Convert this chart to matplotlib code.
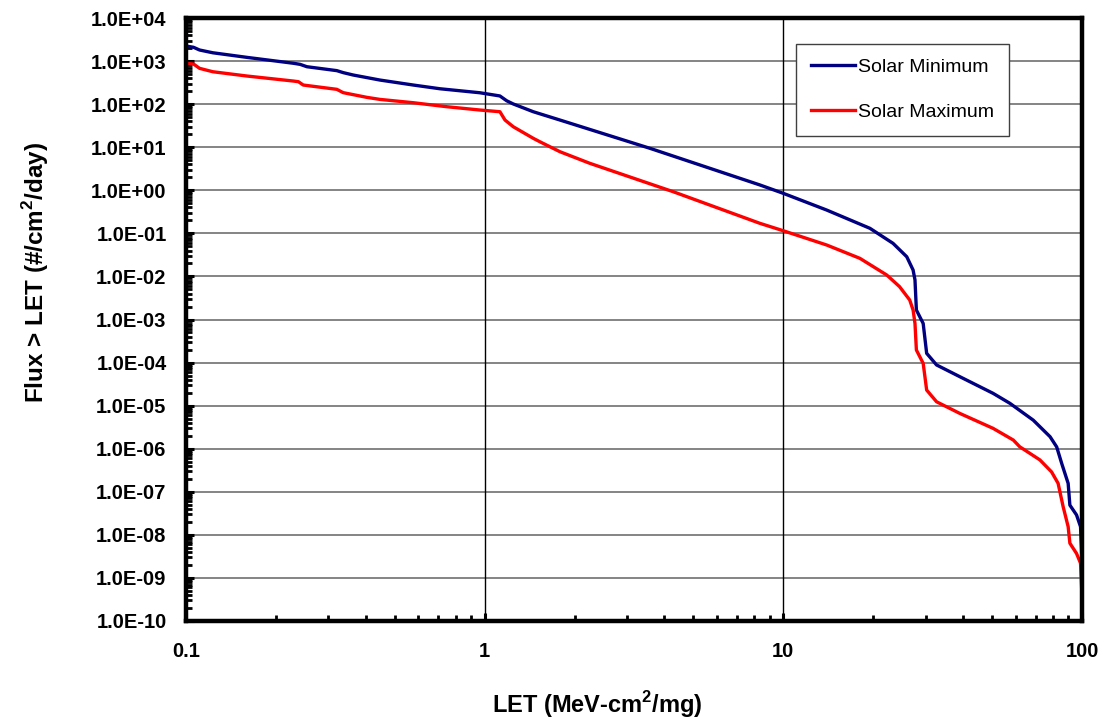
"""
LET spectrum: integral flux vs LET, solar minimum / solar maximum
"""
import matplotlib
matplotlib.use('Agg')
import matplotlib.pyplot as plt
from matplotlib.ticker import FixedLocator, LogLocator, NullFormatter, FuncFormatter

plt.rcParams['font.family'] = ['Liberation Sans', 'DejaVu Sans']
plt.rcParams['mathtext.fontset'] = 'custom'
plt.rcParams['mathtext.bf'] = 'Liberation Sans:bold'
plt.rcParams['mathtext.rm'] = 'Liberation Sans'

# ── data ──────────────────────────────────────────────────────────────── #
let_min = [0.100, 0.106, 0.111, 0.123, 0.160, 0.229, 0.241, 0.254, 0.320, 0.336,
           0.363, 0.446, 0.577, 0.708, 0.964, 1.125, 1.185, 1.247, 1.455, 1.787,
           3.576, 6.30, 8.35, 10.0, 13.97, 19.5, 23.3, 25.9, 27.2, 27.6,
           27.9, 29.4, 30.2, 32.6, 39.0, 50.4, 57.4, 68.7, 78.2, 82.3,
           85.5, 89.9, 91.1, 95.9, 98.9, 100.0]
flux_min = [2240, 2090, 1810, 1560, 1220, 890, 840, 740, 600, 540,
            475, 363, 278, 228, 184, 155, 120, 101, 66.7, 42.8,
            9.44, 2.55, 1.33, 0.85, 0.348, 0.131, 0.0587, 0.0287, 0.0141, 8.3e-3,
            1.66e-3, 8.1e-4, 1.64e-4, 8.8e-5, 4.7e-5, 1.93e-5, 1.13e-5, 4.6e-6, 1.9e-6, 1.1e-6,
            4.6e-7, 1.57e-7, 4.9e-8, 2.9e-8, 1.55e-8, 2.6e-9]

let_max = [0.100, 0.106, 0.111, 0.123, 0.160, 0.229, 0.238, 0.247, 0.320, 0.336,
           0.403, 0.446, 0.577, 0.746, 0.964, 1.125, 1.17, 1.247, 1.455, 1.531,
           1.787, 2.25, 4.28, 8.35, 10.0, 13.97, 18.05, 22.2, 24.5, 26.5,
           27.2, 27.6, 27.9, 29.4, 30.2, 32.6, 39.0, 50.4, 58.9, 61.9,
           72.3, 79.1, 83.2, 86.5, 89.9, 91.1, 95.9, 98.9, 100.0]
flux_max = [887, 855, 679, 566, 450, 344, 332, 278, 221, 185,
            144, 129, 108, 87.3, 73.1, 66.7, 42.8, 29.9, 16.1, 13.4,
            7.87, 4.23, 0.927, 0.171, 0.115, 0.0537, 0.0263, 0.0108, 5.8e-3, 2.84e-3,
            1.66e-3, 8.1e-4, 1.96e-4, 9.6e-5, 2.3e-5, 1.23e-5, 6.6e-6, 2.97e-6, 1.59e-6, 1.11e-6,
            5.5e-7, 2.9e-7, 1.57e-7, 4.5e-8, 1.55e-8, 6.4e-9, 3.7e-9, 2.2e-9, 4.0e-10]

x_ticks = [0.1, 1, 10, 100]
x_ticklabels = ['0.1', '1', '10', '100']
y_ticks = [10.0 ** k for k in range(-10, 5)]

# ── figure ────────────────────────────────────────────────────────────── #
fig = plt.figure(figsize=(11.19, 7.18), dpi=100)
ax = fig.add_axes([0.1662, 0.1351, 0.8007, 0.8398])

ax.set_xscale('log')
ax.set_yscale('log')
ax.set_xlim(0.1, 100)
ax.set_ylim(1e-10, 1e4)

# grid: horizontal at every decade, vertical only at 1 and 10
for yv in y_ticks[1:-1]:
    ax.axhline(yv, color='#707070', lw=1.2, zorder=1)
for xv in (1, 10):
    ax.axvline(xv, color='black', lw=1.0, zorder=1)

ax.plot(let_min, flux_min, color='#000080', lw=2.4, label='Solar Minimum',
        zorder=3, solid_joinstyle='round')
ax.plot(let_max, flux_max, color='#FF0000', lw=2.4, label='Solar Maximum',
        zorder=3, solid_joinstyle='round')

# ticks
ax.xaxis.set_major_locator(FixedLocator(x_ticks))
ax.set_xticklabels(x_ticklabels)
ax.xaxis.set_minor_locator(LogLocator(base=10, subs=range(2, 10)))
ax.xaxis.set_minor_formatter(NullFormatter())
ax.yaxis.set_major_locator(FixedLocator(y_ticks))
ax.yaxis.set_major_formatter(FuncFormatter(lambda v, p: f'{v:.1E}'))
ax.yaxis.set_minor_locator(LogLocator(base=10, subs=range(2, 10), numticks=50))
ax.yaxis.set_minor_formatter(NullFormatter())

ax.tick_params(which='both', direction='in', top=False, right=False, color='black')
ax.tick_params(which='major', length=6, width=2.2, pad=14)
ax.tick_params(which='minor', length=4, width=2.0)
ax.tick_params(axis='x', which='major', pad=15)
for lbl in ax.get_xticklabels() + ax.get_yticklabels():
    lbl.set_fontsize(14.5)
    lbl.set_fontweight('bold')

for s in ax.spines.values():
    s.set_linewidth(3.2)
    s.set_color('black')
    s.set_zorder(4)

ax.set_xlabel(r'LET (MeV-cm$^\mathbf{2}$/mg)', fontsize=17, fontweight='bold')
ax.set_ylabel(r'Flux > LET (#/cm$^\mathbf{2}$/day)', fontsize=17.5, fontweight='bold')
ax.xaxis.set_label_coords(0.459, -0.113)
ax.yaxis.set_label_coords(-0.151, 0.578)

leg = ax.legend(loc='upper left', bbox_to_anchor=(0.681, 0.957), borderaxespad=0,
                fontsize=14, frameon=True, fancybox=False, shadow=False,
                handlelength=2.3, handletextpad=0.15, labelspacing=1.4,
                borderpad=0.75)
leg.get_frame().set_edgecolor('#404040')
leg.get_frame().set_linewidth(1.0)
leg.get_frame().set_alpha(1.0)
leg.set_zorder(5)

fig.savefig('out.png', dpi=100)
plt.close(fig)
print('Saved -> out.png')
